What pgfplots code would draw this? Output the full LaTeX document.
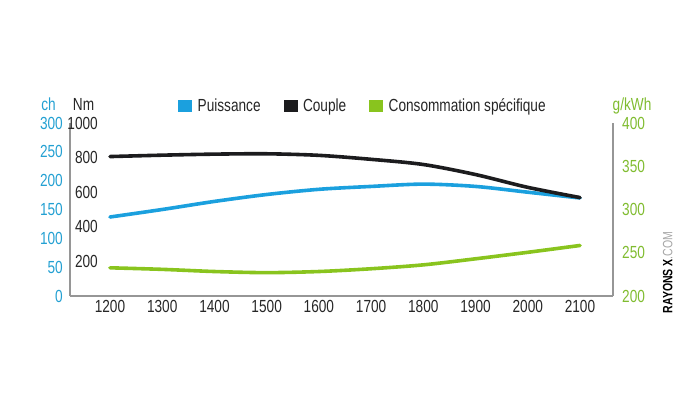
\documentclass[border=0pt]{standalone}
\usepackage{fontspec}
\setmainfont{Liberation Sans}[FakeStretch=0.78]
\usepackage{pgfplots}
\pgfplotsset{compat=1.18}
\definecolor{cBlue}{RGB}{27,160,222}
\definecolor{cBlack}{RGB}{28,28,30}
\definecolor{cGreen}{RGB}{137,196,30}
\definecolor{cGreenT}{RGB}{128,188,48}
\definecolor{cBlueT}{RGB}{35,160,210}
\definecolor{cAxis}{RGB}{150,150,150}
\pgfplotsset{
  base/.style={
    at={(70bp,98bp)}, anchor=south west, scale only axis,
    width=543bp, height=173bp,
    xmin=1123.4, xmax=2163.2,
    /pgf/number format/assume math mode=true,
    /pgf/number format/1000 sep={},
    major tick length=0pt,
    every tick label/.append style={font=\fontsize{17.5bp}{20bp}\selectfont},
    clip=false,
  },
  curve/.style={line width=3.6bp, smooth, line cap=round, line join=round, no markers},
}
\begin{document}
\begin{tikzpicture}
\useasboundingbox (0,0) rectangle (700bp,394bp);
% ch axis (blue)
\begin{axis}[base,
  ymin=0, ymax=300,
  axis x line=none, axis y line*=left,
  y axis line style={draw=none},
  ytick={50,100,150,200,250,300},
  extra y ticks={0},
  extra y tick style={tick label style={text=black!85}},
  yticklabel style={anchor=east, inner sep=0pt, xshift=-7bp, text=cBlueT},
]
\addplot[curve, cBlue] coordinates {(1200,137)(1300,150)(1400,164)(1500,176)(1600,185)(1700,190)(1800,194)(1900,190)(2000,180)(2100,170)};
\node[anchor=base, text=cBlueT, font=\fontsize{17.5bp}{20bp}\selectfont] at (axis description cs:-0.0396,1.075) {ch};
\end{axis}
% Nm axis (black)
\begin{axis}[base,
  ymin=0, ymax=1000,
  axis x line*=bottom, axis y line*=left,
  axis line style={cAxis, line width=1.1bp, -},
  xtick={1200,1300,1400,1500,1600,1700,1800,1900,2000,2100},
  ytick={200,400,600,800,1000},
  xticklabel style={anchor=north, inner sep=0pt, yshift=-4bp, text=black!85},
  yticklabel style={anchor=east, inner sep=0pt, xshift=28bp, text=black!85},
  legend columns=3,
  legend image code/.code={\fill[#1] (0bp,-5.5bp) rectangle (13bp,6bp);},
  legend style={at={(axis description cs:0.199,1.098)}, anchor=west, draw=none, fill=none,
    inner sep=0pt, font=\fontsize{17.5bp}{20bp}\selectfont, text=black!85,
    /tikz/every odd column/.append style={column sep=4bp},
    /tikz/every even column/.append style={column sep=21bp}},
]
\addlegendimage{cBlue}
\addlegendentry{Puissance}
\addlegendimage{cBlack}
\addlegendentry{Couple}
\addlegendimage{cGreen}
\addlegendentry{Consommation spécifique}
\addplot[curve, cBlack] coordinates {(1200,806)(1300,814)(1400,820)(1500,822)(1600,813)(1700,790)(1800,760)(1900,702)(2000,628)(2100,569)};
\node[anchor=base, text=black!85, font=\fontsize{17.5bp}{20bp}\selectfont] at (axis description cs:0.0249,1.075) {Nm};
\end{axis}
% g/kWh axis (green)
\begin{axis}[base,
  ymin=200, ymax=400,
  axis x line=none, axis y line*=right,
  axis line style={cAxis, line width=1.1bp, -},
  ytick={200,250,300,350,400},
  yticklabel style={anchor=west, inner sep=0pt, xshift=9bp, text=cGreenT},
]
\addplot[curve, cGreen] coordinates {(1200,232.6)(1300,230.8)(1400,228.3)(1500,227)(1600,228.3)(1700,231.5)(1800,236)(1900,243)(2000,250.5)(2100,258.4)};
\node[anchor=base, text=cGreenT, font=\fontsize{17.5bp}{20bp}\selectfont] at (axis description cs:1.035,1.075) {g/kWh};
\node[rotate=90, anchor=center, font=\fontsize{13.5bp}{15bp}\selectfont] at (axis description cs:1.101,0.136) {\textbf{RAYONS X}\textcolor{gray!70}{.COM}};
\end{axis}
\end{tikzpicture}
\end{document}
